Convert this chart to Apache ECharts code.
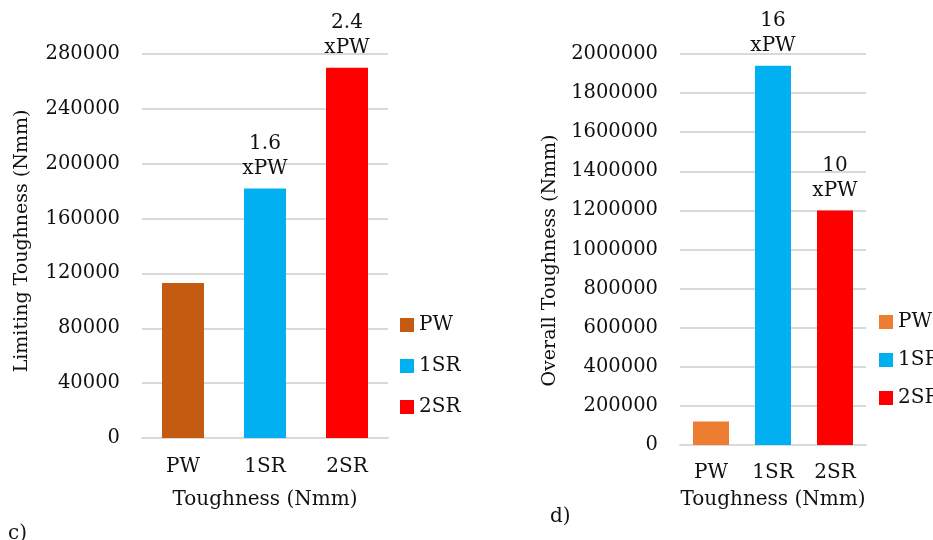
<!DOCTYPE html>
<html>
<head>
<meta charset="utf-8">
<script src="https://cdn.jsdelivr.net/npm/echarts@6/dist/echarts.min.js"></script>
<style>
html,body{margin:0;padding:0;background:#fff;}
#chart{width:933px;height:540px;}
</style>
</head>
<body>
<div id="chart"></div>
<script>
// ---- data ----
var categories = ['PW', '1SR', '2SR'];
var limitingValues = [113000, 182000, 270000];
var limitingLabels = ['', '1.6\nxPW', '2.4\nxPW'];
var overallValues = [120000, 1940000, 1200000];
var overallLabels = ['', '16\nxPW', '10\nxPW'];
var limitingTicks = { min: 0, max: 280000, interval: 40000 };
var overallTicks = { min: 0, max: 2000000, interval: 200000 };
var leftColors = ['#C55A11', '#00B0F0', '#FF0000'];
var rightColors = ['#ED7D31', '#00B0F0', '#FF0000'];

var FONT = 'DejaVu Serif';
var TXT = '#111';

function makeSeries(values, labels, colors, axisIdx, suffix, barW) {
  return categories.map(function (cat, i) {
    var data = categories.map(function (c, j) { return j === i ? values[i] : '-'; });
    return {
      name: cat + suffix,
      type: 'bar',
      stack: 'st' + axisIdx,
      xAxisIndex: axisIdx,
      yAxisIndex: axisIdx,
      barWidth: barW,
      itemStyle: { color: colors[i] },
      label: {
        show: labels[i] !== '',
        position: 'top',
        distance: 7,
        formatter: labels[i],
        fontFamily: FONT,
        fontSize: 20,
        lineHeight: 25,
        color: TXT
      },
      data: data
    };
  });
}

var series = makeSeries(limitingValues, limitingLabels, leftColors, 0, '', 42)
  .concat(makeSeries(overallValues, overallLabels, rightColors, 1, ' ', 36));

function xAxis(gridIndex, margin, nameGap) {
  return {
    type: 'category',
    gridIndex: gridIndex,
    data: categories,
    axisLine: { show: true, lineStyle: { color: '#D9D9D9', width: 2 } },
    axisTick: { show: false },
    axisLabel: { fontFamily: FONT, fontSize: 20, color: TXT, margin: margin },
    name: 'Toughness (Nmm)',
    nameLocation: 'middle',
    nameGap: nameGap,
    nameTextStyle: { fontFamily: FONT, fontSize: 20, color: TXT }
  };
}
function yAxis(gridIndex, ticks, name, nameGap, namePad) {
  return {
    type: 'value',
    gridIndex: gridIndex,
    min: ticks.min,
    max: ticks.max,
    interval: ticks.interval,
    axisLine: { show: false },
    axisTick: { show: false },
    splitLine: { lineStyle: { color: '#D9D9D9', width: 2 } },
    axisLabel: {
      fontFamily: FONT, fontSize: 19.5, color: TXT, margin: 22,
      formatter: function (v) { return String(v); }
    },
    name: name,
    nameLocation: 'middle',
    nameRotate: 90,
    nameGap: nameGap,
    nameTextStyle: { fontFamily: FONT, fontSize: 19, color: TXT, padding: namePad }
  };
}

var option = {
  backgroundColor: '#fff',
  animation: false,
  grid: [
    { left: 142, right: 545, top: 54, bottom: 102, containLabel: false, outerBoundsMode: 'none' },
    { left: 680, right: 67, top: 54, bottom: 95, containLabel: false, outerBoundsMode: 'none' }
  ],
  xAxis: [xAxis(0, 19, 52), xAxis(1, 18, 45)],
  yAxis: [
    yAxis(0, limitingTicks, 'Limiting Toughness (Nmm)', 110, [0, 0, 0, 10]),
    yAxis(1, overallTicks, 'Overall Toughness (Nmm)', 120, [0, 22, 0, 0])
  ],
  legend: [
    {
      orient: 'vertical', left: 395, top: 310, itemWidth: 14, itemHeight: 14, itemGap: 21,
      icon: 'rect', itemTextGap: 5,
      data: categories.slice(),
      textStyle: { fontFamily: FONT, fontSize: 20, color: TXT }
    },
    {
      orient: 'vertical', left: 874, top: 307, itemWidth: 14, itemHeight: 14, itemGap: 18,
      icon: 'rect', itemTextGap: 5,
      data: categories.map(function (c) { return c + ' '; }),
      formatter: function (n) { return n.trim(); },
      textStyle: { fontFamily: FONT, fontSize: 20, color: TXT }
    }
  ],
  graphic: [
    { type: 'text', left: 8, top: 524, style: { text: 'c)', font: '20px "DejaVu Serif"', fill: TXT } },
    { type: 'text', left: 550, top: 507, style: { text: 'd)', font: '20px "DejaVu Serif"', fill: TXT } }
  ],
  series: series
};

var chart = echarts.init(document.getElementById('chart'), null, { renderer: 'canvas' });
chart.setOption(option);
</script>
</body>
</html>
